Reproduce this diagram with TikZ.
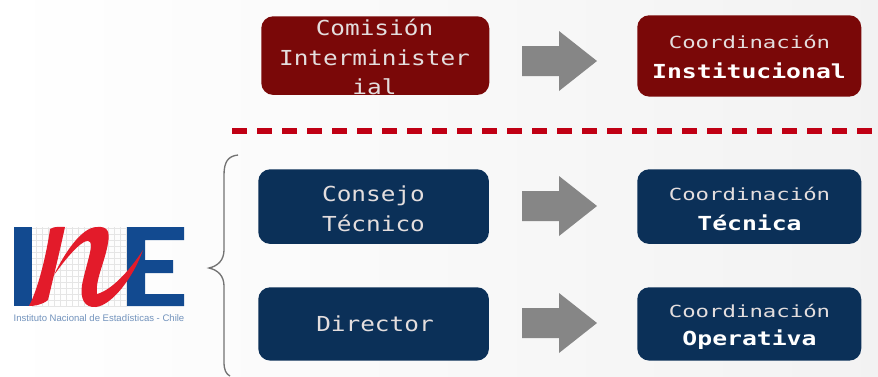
\documentclass[tikz,border=0pt]{standalone}
\usepackage{fontspec}
\setmainfont{DejaVu Sans Mono}
\newfontface\bodyface[FakeStretch=1.18]{DejaVu Sans Mono}
\newfontface\smallface[FakeStretch=1.34]{DejaVu Sans Mono}
\newfontface\strongface[FakeStretch=1.28]{DejaVu Sans Mono Bold}
\definecolor{boxred}{HTML}{7A0808}
\definecolor{boxblue}{HTML}{0B3058}
\definecolor{dashred}{HTML}{C00014}
\definecolor{arrowgray}{HTML}{868686}
\definecolor{logoblue}{HTML}{124A90}
\definecolor{logored}{HTML}{E31B2A}
\definecolor{txtsoft}{HTML}{E4DEDE}
\tikzset{
 card/.style={rounded corners=9pt,inner sep=0pt,anchor=north west},
 flow/.style={draw=none,fill=arrowgray},
 logobar/.style={fill=logoblue,draw=none},
 body/.style={text=txtsoft,align=center,inner sep=0pt,font=\bodyface\fontsize{15.5}{22.3}\selectfont},
 small/.style={inner sep=0pt,font=\smallface\fontsize{12.5}{15}\selectfont,text=txtsoft},
 strong/.style={inner sep=0pt,font=\strongface\fontsize{14.5}{17}\selectfont,text=white},
}
\begin{document}
\begin{tikzpicture}[x=0.75pt,y=-0.75pt]
\useasboundingbox (0,0) rectangle (878,376);
\shade[left color=white,right color=white!95!black] (0,0) rectangle (878,376);
% cards
\node[card,fill=boxred,minimum width=171pt,minimum height=59pt] (c1) at (261,16) {};
\node[body] (c1t) at (374.5,57) {Comisión\\Interminister\\ial};
\node[card,fill=boxred,minimum width=168pt,minimum height=61pt] (k1) at (637,15) {};
\node[small] (k1a) at (749.5,42) {Coordinación};
\node[strong] (k1b) at (749,71) {Institucional};
\draw[dash pattern=on 11.25pt off 7.5pt,line width=4.2pt,draw=dashred] (232,131) -- (878,131);
\node[card,fill=boxblue,minimum width=173pt,minimum height=56pt] (c2) at (258,169) {};
\node[body] (c2t) at (373.5,208.5) {Consejo\\Técnico};
\node[card,fill=boxblue,minimum width=168pt,minimum height=56pt] (k2) at (637,169) {};
\node[small] (k2a) at (749.5,194) {Coordinación};
\node[strong] (k2b) at (749.5,223) {Técnica};
\node[card,fill=boxblue,minimum width=173pt,minimum height=55pt] (c3) at (258,287) {};
\node[body] (c3t) at (375,324) {Director};
\node[card,fill=boxblue,minimum width=168pt,minimum height=55pt] (k3) at (637,287) {};
\node[small] (k3a) at (749.5,311) {Coordinación};
\node[strong] (k3b) at (749.5,340) {Operativa};
% arrows
\foreach \n/\yy in {a1/61,a2/206,a3/323}{
 \coordinate (\n) at (522,\yy);
 \fill[flow] (\n) ++(0,-15) -- ++(37,0) -- ++(0,-15) -- ++(38,30) -- ++(-38,30) -- ++(0,-15) -- ++(-37,0) -- cycle;
}
% brace
\coordinate (bt) at (238,155);
\coordinate (bm) at (209,268);
\coordinate (bb) at (230,376);
\draw[draw=black!55,line width=1pt] (bt) .. controls (228,156) and (224,162) .. (224,175) -- (224,250) .. controls (224,260) and (218,266) .. (bm) .. controls (218,270) and (224,276) .. (224,286) -- (224,362) .. controls (224,370) and (226,374) .. (bb);
% logo
\begin{scope}
 \clip (32,227) rectangle (127,306);
 \draw[black!10,line width=0.3pt,step=4.5pt] (32,227) grid (127,306);
\end{scope}
\fill[logobar] (14,227) rectangle (32,306);
\fill[logobar] (127,227) -- (184,227) -- (184,240) -- (145,240) -- (145,260) -- (173,260) -- (173,273) -- (145,273) -- (145,294) -- (184,294) -- (184,306) -- (127,306) -- cycle;
\fill[logored] (29,306) .. controls (40,285) and (48,245) .. (50,229) .. controls (55,226) and (60,227) .. (65,227) .. controls (60,250) and (54,275) .. (48,300) .. controls (42,305) and (34,306) .. (29,306) -- cycle;
\fill[logored] (54,275) .. controls (65,252) and (82,227) .. (97,227) .. controls (108,226) and (110,232) .. (108,243) .. controls (105,262) and (95,280) .. (97,294) .. controls (112,290) and (130,270) .. (143,250) .. controls (133,278) and (112,305) .. (96,307) .. controls (84,308) and (80,298) .. (82,285) .. controls (85,270) and (91,252) .. (91,246) .. controls (91,239) and (86,240) .. (81,244) .. controls (72,251) and (62,264) .. (54,275) -- cycle;
\node[font=\fontsize{7.15}{8}\selectfont,text=logoblue!60,inner sep=0pt] (logotxt) at (99,318) {\fontspec{Liberation Sans}Instituto Nacional de Estadísticas - Chile};
\end{tikzpicture}
\end{document}
